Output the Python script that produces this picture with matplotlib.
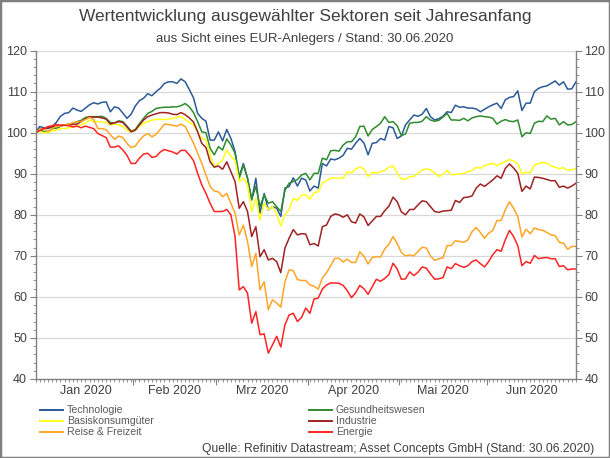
import numpy as np
import pandas as pd
import matplotlib
matplotlib.use('Agg')
import matplotlib.pyplot as plt
from matplotlib.ticker import MultipleLocator, FixedLocator, NullFormatter
from matplotlib.patches import Rectangle
from matplotlib.lines import Line2D

plt.rcParams['font.family'] = ['Liberation Sans', 'DejaVu Sans']

# trading days from 31.12.2019 to 30.06.2020
dates = pd.bdate_range('2019-12-31', '2020-06-30')
month_labels = ['Jan 2020', 'Feb 2020', 'Mrz 2020', 'Apr 2020', 'Mai 2020', 'Jun 2020']

technologie = [
    100, 101.5, 101.2, 101.0, 101.5, 102.5, 104.0, 104.7, 104.9, 106.0,
    105.5, 105.2, 106.0, 106.8, 107.3, 107.0, 107.4, 107.5, 105.1, 106.3,
    106.0, 104.8, 103.5, 104.5, 106.5, 107.8, 108.4, 109.5, 109.0, 110.0,
    110.8, 112.0, 112.4, 112.4, 112.0, 113.1, 112.4, 110.5, 108.5, 104.7,
    103.5, 102.8, 98.2, 98.2, 100.2, 98.0, 100.8, 98.6, 95.4, 89.3,
    92.5, 88.9, 83.6, 88.9, 80.4, 85.2, 81.2, 82.0, 81.6, 79.6,
    86.5, 86.9, 89.0, 87.0, 88.9, 88.5, 85.8, 87.0, 86.5, 92.5,
    91.9, 93.6, 93.4, 93.8, 94.5, 96.2, 96.0, 97.4, 98.6, 97.5,
    94.6, 97.4, 97.6, 98.6, 98.2, 101.5, 101.2, 98.6, 99.2, 101.9,
    103.1, 104.3, 104.0, 104.5, 105.9, 103.9, 103.1, 103.4, 104.0, 105.1,
    104.9, 106.7, 106.2, 106.3, 106.0, 106.0, 105.8, 105.1, 105.7, 106.3,
    106.8, 107.2, 105.9, 108.0, 108.6, 108.8, 110.2, 105.4, 107.2, 107.2,
    110.0, 110.8, 111.2, 111.4, 112.0, 112.6, 111.6, 112.4, 110.6, 110.7, 112.4]

gesundheit = [
    100, 100.7, 100.3, 100.0, 101.0, 101.1, 101.5, 101.9, 102.1, 102.3,
    102.7, 103.0, 103.7, 103.9, 103.9, 103.9, 104.0, 103.5, 102.5, 102.3,
    102.9, 102.7, 101.6, 100.4, 100.8, 102.2, 103.5, 104.7, 105.2, 105.9,
    106.1, 106.2, 106.2, 106.3, 106.3, 106.6, 107.1, 106.3, 104.9, 102.7,
    100.2, 100.0, 96.2, 94.6, 96.6, 95.8, 98.5, 97.0, 95.0, 88.9,
    92.1, 88.9, 83.8, 86.9, 82.0, 84.8, 82.8, 83.2, 82.0, 80.8,
    86.0, 87.7, 88.1, 88.6, 89.7, 90.1, 88.5, 90.1, 90.1, 93.8,
    93.4, 95.6, 95.7, 95.5, 97.0, 97.8, 97.8, 99.0, 101.5, 101.6,
    99.2, 100.8, 101.5, 102.3, 103.9, 102.5, 102.7, 101.7, 99.3, 99.7,
    102.3, 102.5, 102.5, 102.8, 103.9, 103.1, 102.8, 103.0, 103.8, 104.7,
    103.1, 103.1, 103.0, 103.5, 102.9, 103.6, 103.9, 104.1, 103.9, 103.8,
    103.5, 102.1, 102.8, 103.2, 102.8, 102.7, 103.1, 99.0, 100.0, 99.8,
    102.3, 102.8, 102.7, 104.1, 103.3, 103.5, 101.9, 102.7, 101.9, 102.0, 102.7]

basiskonsum = [
    100, 100.3, 100.0, 100.0, 100.5, 100.6, 101.0, 101.0, 101.2, 101.4,
    101.6, 102.0, 102.3, 103.1, 102.7, 102.7, 102.6, 102.5, 101.9, 102.1,
    101.9, 101.5, 100.6, 100.2, 100.6, 101.5, 102.3, 102.7, 103.1, 103.2,
    103.3, 103.2, 103.3, 103.5, 103.7, 104.0, 103.2, 102.5, 101.9, 100.2,
    98.6, 98.2, 94.6, 91.7, 92.5, 93.3, 95.8, 94.2, 93.3, 88.1,
    88.9, 87.3, 80.8, 84.0, 78.8, 82.8, 81.3, 82.0, 80.2, 77.3,
    80.0, 81.3, 84.0, 83.5, 84.8, 84.9, 83.8, 85.4, 85.6, 87.8,
    88.3, 88.9, 89.0, 88.9, 88.9, 90.5, 90.2, 91.2, 91.6, 91.2,
    89.3, 90.3, 90.2, 90.5, 90.8, 91.6, 91.9, 90.2, 88.7, 88.7,
    89.3, 89.3, 90.1, 90.9, 91.2, 91.0, 90.2, 89.3, 89.9, 90.8,
    89.8, 89.8, 90.0, 90.1, 90.5, 90.8, 91.6, 91.3, 92.0, 92.3,
    92.5, 92.0, 92.5, 93.0, 93.5, 93.1, 92.5, 90.0, 90.4, 90.2,
    92.1, 92.5, 92.7, 92.6, 91.9, 91.6, 91.2, 91.5, 90.8, 91.0, 91.3]

industrie = [
    100, 100.8, 101.0, 101.2, 101.4, 101.6, 101.8, 101.9, 101.9, 102.0,
    102.1, 102.7, 103.4, 103.9, 103.8, 103.8, 103.6, 103.3, 102.1, 102.4,
    102.7, 102.5, 101.4, 100.2, 100.6, 101.9, 103.1, 103.9, 104.3, 104.6,
    104.9, 104.9, 104.8, 104.5, 104.4, 104.9, 104.4, 103.6, 102.6, 100.2,
    97.4, 96.4, 92.9, 91.6, 91.9, 91.1, 92.9, 90.5, 88.1, 81.6,
    83.2, 80.8, 74.7, 77.1, 69.8, 71.5, 69.0, 69.4, 68.6, 65.9,
    71.9, 74.3, 76.4, 75.1, 75.4, 75.3, 72.7, 73.0, 72.4, 77.1,
    77.5, 79.6, 80.2, 80.0, 79.4, 80.0, 78.3, 78.0, 80.2, 79.5,
    77.4, 78.5, 79.6, 79.6, 81.0, 82.1, 84.3, 83.2, 80.7, 80.0,
    81.3, 81.3, 82.4, 83.4, 83.2, 82.0, 80.8, 80.6, 80.9, 81.0,
    81.1, 83.5, 83.0, 84.2, 84.3, 84.6, 86.5, 87.5, 86.9, 87.7,
    88.5, 89.5, 88.9, 91.3, 92.4, 91.4, 90.1, 85.7, 87.0, 86.3,
    89.2, 89.1, 88.9, 88.6, 88.3, 88.3, 86.7, 87.0, 86.5, 87.0, 87.7]

reise = [
    100, 100.8, 101.0, 100.3, 101.0, 101.5, 101.6, 101.9, 102.1, 102.4,
    102.7, 102.7, 103.2, 103.7, 103.2, 101.0, 101.0, 100.7, 99.5, 98.4,
    99.2, 98.8, 97.4, 96.4, 96.7, 98.2, 99.2, 99.8, 99.0, 99.6,
    100.8, 102.1, 102.0, 101.8, 101.6, 102.1, 101.5, 99.5, 97.5, 95.0,
    92.5, 89.7, 86.9, 85.8, 85.6, 84.4, 85.2, 82.8, 80.4, 75.1,
    77.5, 73.5, 67.4, 70.6, 61.7, 63.7, 56.9, 59.3, 58.5, 57.5,
    63.7, 66.6, 66.4, 64.2, 64.0, 64.0, 62.9, 62.6, 61.9, 64.6,
    65.9, 67.6, 69.4, 69.4, 68.5, 69.2, 68.4, 68.4, 71.0, 69.9,
    68.0, 69.6, 69.8, 69.7, 71.7, 72.8, 74.7, 73.0, 70.8, 70.0,
    70.2, 70.0, 71.1, 72.1, 71.9, 70.0, 68.9, 69.3, 69.5, 72.5,
    72.5, 73.7, 73.5, 73.3, 73.9, 75.9, 76.9, 75.7, 74.3, 75.5,
    76.2, 78.6, 78.6, 81.2, 83.2, 81.6, 79.6, 74.6, 76.5, 75.4,
    76.8, 76.4, 76.2, 75.7, 75.1, 74.9, 73.3, 73.1, 71.6, 72.3, 72.3]

energie = [
    100, 100.5, 101.0, 101.5, 101.7, 102.0, 101.8, 101.8, 101.7, 101.4,
    101.6, 101.2, 101.6, 101.3, 101.0, 99.8, 99.3, 98.8, 96.5, 96.5,
    96.8, 95.8, 94.5, 92.5, 92.5, 93.8, 94.8, 95.0, 94.0, 94.2,
    95.3, 95.9, 95.6, 95.3, 94.8, 95.7, 95.7, 94.6, 93.2, 90.1,
    87.3, 85.2, 82.8, 80.8, 80.8, 80.8, 81.3, 80.0, 74.7, 61.7,
    62.5, 60.9, 53.6, 56.4, 50.8, 51.0, 46.3, 48.3, 50.4, 47.8,
    53.2, 55.6, 56.0, 54.0, 55.0, 57.3, 56.0, 59.5, 59.7, 61.9,
    62.9, 63.4, 63.4, 63.3, 62.8, 61.5, 59.8, 61.0, 62.8, 62.0,
    60.6, 62.5, 64.3, 63.8, 64.5, 65.4, 68.2, 66.8, 64.3, 64.4,
    66.1, 65.2, 66.0, 67.3, 67.0, 65.6, 64.3, 64.4, 64.7, 67.3,
    66.9, 68.1, 67.6, 67.2, 67.6, 68.6, 69.0, 68.1, 67.3, 68.6,
    70.3, 71.5, 71.1, 73.9, 76.2, 74.7, 72.5, 67.6, 68.6, 68.2,
    70.1, 69.3, 69.5, 69.6, 69.3, 69.3, 67.4, 67.6, 66.6, 66.8, 66.8]

series = [
    ('Technologie', technologie, '#2B5A96'),
    ('Gesundheitswesen', gesundheit, '#2E8B2E'),
    ('Basiskonsumgüter', basiskonsum, '#FFFF1A'),
    ('Industrie', industrie, '#9E2222'),
    ('Reise & Freizeit', reise, '#FFA526'),
    ('Energie', energie, '#FF2424'),
]

x = np.arange(len(dates))
months = dates.month
month_pos = [x[months == m].mean() for m in range(1, 7)]
month_bounds = [x[months == m].max() + 0.5 for m in range(1, 6)]

W, H = 610, 458
fig = plt.figure(figsize=(W / 100, H / 100), dpi=100)
ax = fig.add_axes([0.0582, 0.1725, 0.886, 0.717])

lines = {}
for name, vals, col in series:
    ln, = ax.plot(x, vals, color=col, linewidth=1.1, label=name)
    lines[name] = ln

ax.set_xlim(0, len(dates) - 1)
ax.set_ylim(40, 120)
ax.yaxis.set_major_locator(MultipleLocator(10))
ax.yaxis.set_minor_locator(MultipleLocator(2))
ax.grid(axis='y', which='major', color='#D9D9D9', linewidth=0.9)
ax.set_axisbelow(True)

# month boundaries get the longer ticks, every trading day a short one
ax.xaxis.set_major_locator(FixedLocator(month_bounds))
ax.xaxis.set_major_formatter(NullFormatter())
ax.xaxis.set_minor_locator(FixedLocator(x))
for pos, lab in zip(month_pos, month_labels):
    ax.text(pos, -0.038, lab, transform=ax.get_xaxis_transform(), ha='center',
            va='center', fontsize=9, color='#404040')

grey = '#808080'
for s in ['left', 'right', 'bottom']:
    ax.spines[s].set_color(grey)
    ax.spines[s].set_linewidth(1.0)
ax.spines['top'].set_visible(False)

ax.tick_params(axis='y', which='both', left=True, right=True, labelleft=True,
               labelright=True, direction='out', color=grey, labelsize=9,
               labelcolor='#404040')
ax.tick_params(axis='y', which='major', length=4, pad=2)
ax.tick_params(axis='y', which='minor', length=2.5)
ax.tick_params(axis='x', which='major', length=4, direction='out', color=grey)
ax.tick_params(axis='x', which='minor', length=2.2, direction='out', color=grey)

fig.text(0.5, 1 - 17 / H, 'Wertentwicklung ausgewählter Sektoren seit Jahresanfang',
         ha='center', va='center', fontsize=12.5, color='#404040')
fig.text(0.5, 1 - 39 / H, 'aus Sicht eines EUR-Anlegers / Stand: 30.06.2020',
         ha='center', va='center', fontsize=9.5, color='#404040')

# legend in two columns, drawn by hand to keep the tight row spacing
legend_cols = [(40, ['Technologie', 'Basiskonsumgüter', 'Reise & Freizeit']),
               (309, ['Gesundheitswesen', 'Industrie', 'Energie'])]
row_y = [410, 421, 432]
for x0, names in legend_cols:
    for yy, name in zip(row_y, names):
        ln = lines[name]
        fig.add_artist(Line2D([x0 / W, (x0 + 23) / W], [1 - yy / H, 1 - yy / H],
                              transform=fig.transFigure, color=ln.get_color(),
                              linewidth=1.4))
        fig.text((x0 + 27) / W, 1 - yy / H, name, ha='left', va='center',
                 fontsize=7.6, color='#595959')

fig.text(594 / W, 1 - 449 / H,
         'Quelle: Refinitiv Datastream; Asset Concepts GmbH (Stand: 30.06.2020)',
         ha='right', va='center', fontsize=8.75, color='#404040')

fig.patches.append(Rectangle((0, 0), 1, 1, transform=fig.transFigure, fill=False,
                             edgecolor='#7F7F7F', linewidth=2.5))

fig.savefig('out.png', dpi=100)
